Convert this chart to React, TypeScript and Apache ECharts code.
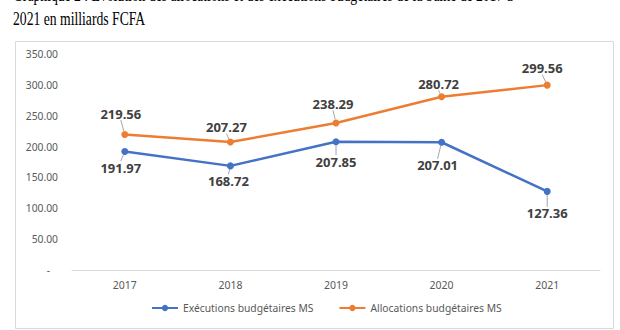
import React, { useEffect, useRef } from "react";
import * as echarts from "echarts";

const years = ["2017", "2018", "2019", "2020", "2021"];
const executions = [191.97, 168.72, 207.85, 207.01, 127.36];
const allocations = [219.56, 207.27, 238.29, 280.72, 299.56];
const seriesNames = ["Exécutions budgétaires MS", "Allocations budgétaires MS"];
const titleLine1 = "Graphique 2 : Évolution des allocations et des exécutions budgétaires de la Santé de 2017 à";
const titleLine2 = "2021 en milliards FCFA";

// label offsets (layout only)
const execLabelDy = [16, 15, 20, 23, 22];
const execLabelDx = [-4, -2, 0, -4, 0];
const allocLabelDy = [-21, -15, -19, -13, -17];
const allocLabelDx = [-4, -4, -3, -3, -5];

export default function App() {
  const ref = useRef<HTMLDivElement>(null);
  useEffect(() => {
    if (!ref.current) return;
    const chart = echarts.init(ref.current, null, { renderer: "svg" });
    const font = "'Noto Sans', sans-serif";
    const labelStyle = {
      show: true,
      position: "inside" as const,
      fontFamily: font,
      fontSize: 13,
      fontWeight: "bold" as const,
      color: "#404040",
      formatter: (p: any) => Number(p.value).toFixed(2),
    };
    chart.setOption({
      animation: false,
      backgroundColor: "#ffffff",
      graphic: [
        {
          type: "rect",
          shape: { x: 15.5, y: 41.5, width: 598, height: 287 },
          style: { fill: "none", stroke: "#d9d9d9", lineWidth: 1 },
          silent: true,
        },
        {
          type: "text",
          x: 13,
          y: -14,
          scaleX: 0.76,
          style: {
            text: titleLine1,
            font: "18px 'Liberation Serif', serif",
            fill: "#000000",
          },
        },
        {
          type: "text",
          x: 13,
          y: 10,
          scaleX: 0.76,
          style: {
            text: titleLine2,
            font: "18px 'Liberation Serif', serif",
            fill: "#000000",
          },
        },
      ],
      grid: { left: 72, right: 20, top: 54, bottom: 60 },
      legend: {
        bottom: 12,
        left: 146,
        itemWidth: 26,
        itemHeight: 8,
        itemGap: 25,
        textStyle: { fontFamily: font, fontSize: 10.3, color: "#595959" },
        data: seriesNames,
      },
      xAxis: {
        type: "category",
        data: years,
        boundaryGap: true,
        axisLine: { lineStyle: { color: "#d9d9d9", width: 1 } },
        axisTick: { show: false },
        axisLabel: { fontFamily: font, fontSize: 10.5, color: "#595959", margin: 9 },
      },
      yAxis: {
        type: "value",
        min: 0,
        max: 350,
        interval: 50,
        splitLine: { show: false },
        axisLine: { show: false },
        axisTick: { show: false },
        axisLabel: {
          fontFamily: font,
          fontSize: 10.3,
          color: "#595959",
          margin: 14,
          formatter: (v: number) => (v === 0 ? "-   " : v.toFixed(2)),
        },
      },
      series: [
        {
          name: seriesNames[0],
          type: "line",
          data: executions,
          color: "#4472C4",
          symbol: "circle",
          symbolSize: 7,
          lineStyle: { width: 2.5 },
          label: labelStyle,
          labelLine: { show: true, lineStyle: { color: "#a6a6a6", width: 1 } },
          labelLayout: (p: any) => ({ dx: execLabelDx[p.dataIndex], dy: execLabelDy[p.dataIndex] }),
        },
        {
          name: seriesNames[1],
          type: "line",
          data: allocations,
          color: "#ED7D31",
          symbol: "circle",
          symbolSize: 7,
          lineStyle: { width: 2.5 },
          label: labelStyle,
          labelLine: { show: true, lineStyle: { color: "#a6a6a6", width: 1 } },
          labelLayout: (p: any) => ({ dx: allocLabelDx[p.dataIndex], dy: allocLabelDy[p.dataIndex] }),
        },
      ],
    });
    return () => chart.dispose();
  }, []);
  return <div ref={ref} style={{ width: 620, height: 330, position: "fixed", left: 0, top: 0 }} />;
}
